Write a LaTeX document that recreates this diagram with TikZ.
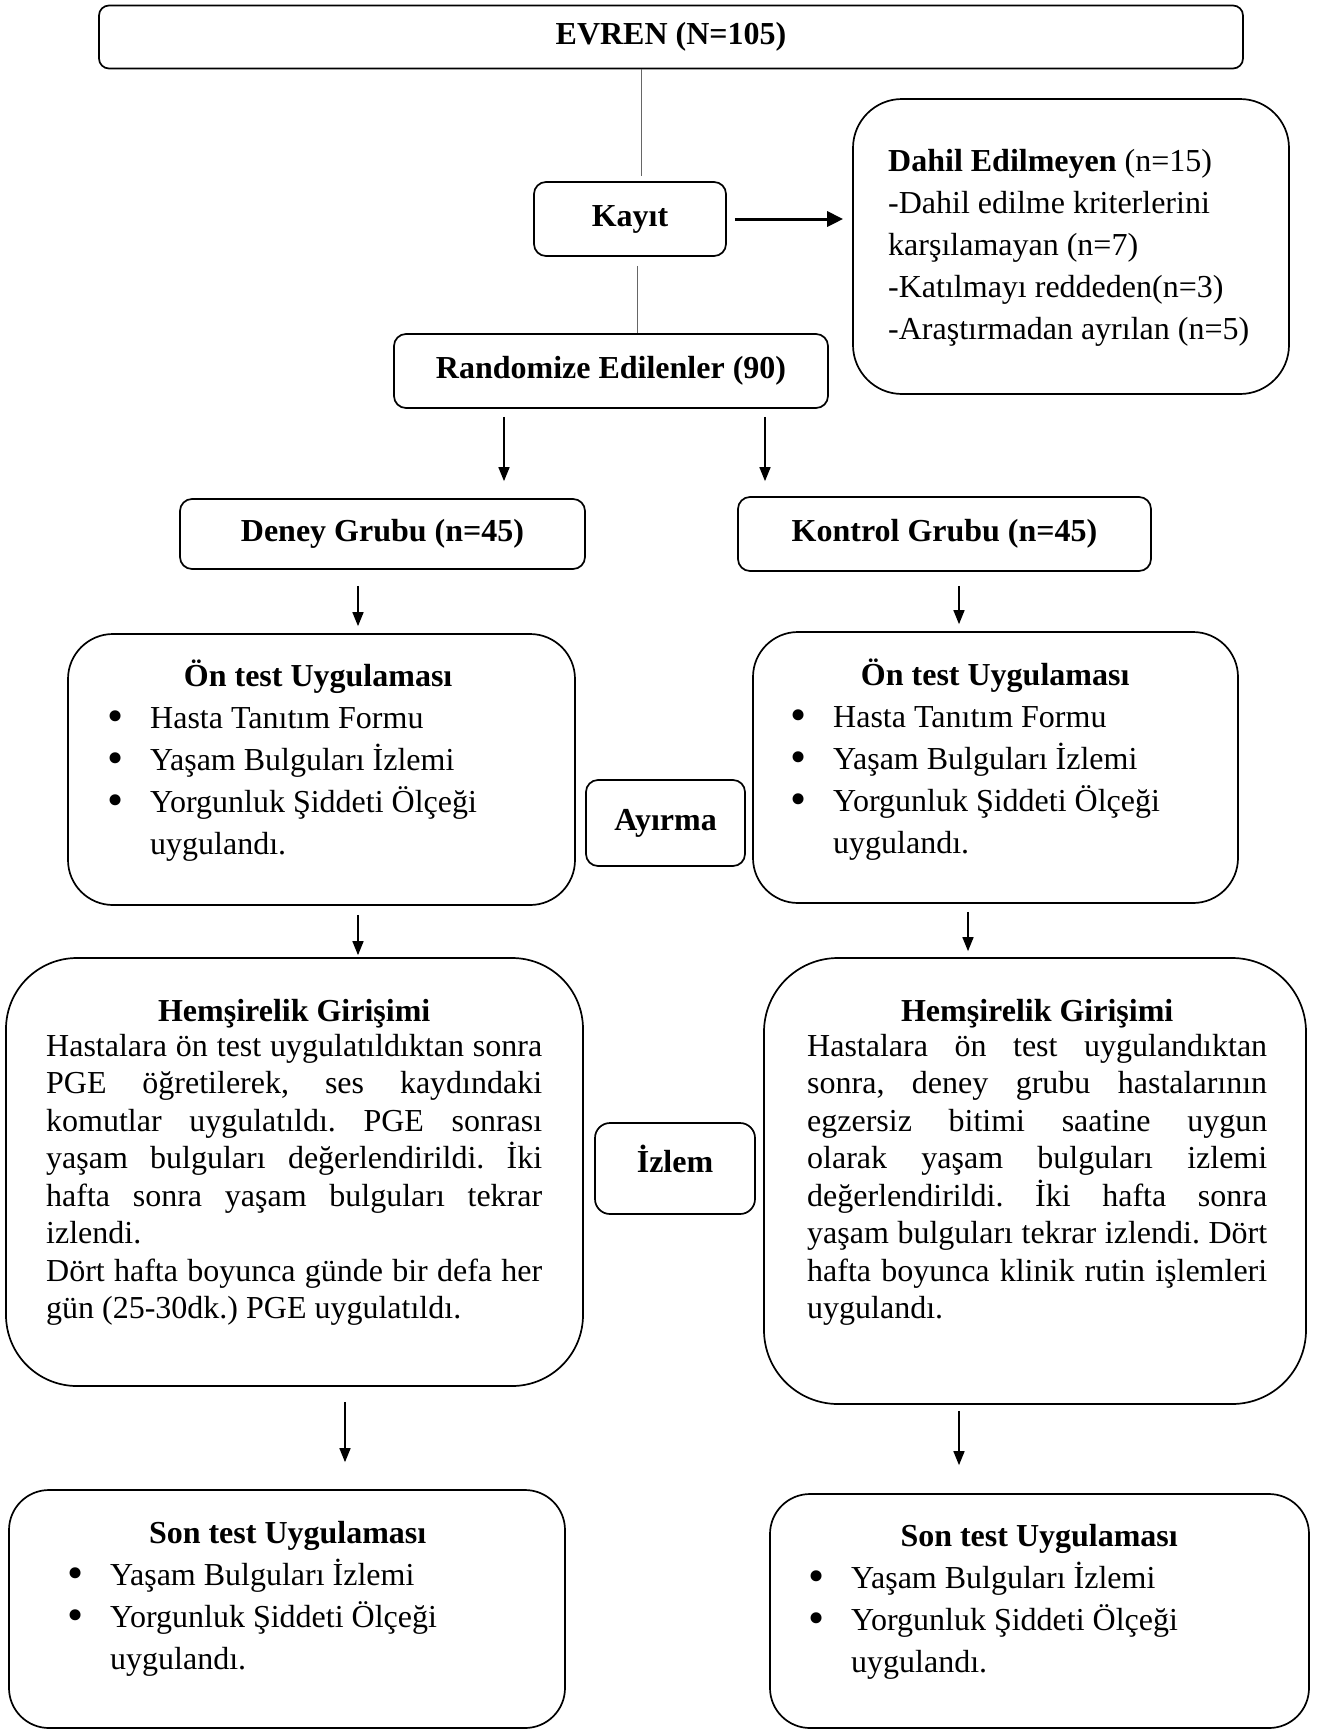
\documentclass[tikz,border=0pt]{standalone}
\usepackage{fontspec}
\setmainfont{Liberation Serif}
\usetikzlibrary{arrows.meta}
\newcommand{\fs}{\fontsize{32pt}{42pt}\selectfont}
\newcommand{\fsb}{\fontsize{32pt}{37.5pt}\selectfont}
\newcommand{\st}{\rule{0pt}{28pt}}
\newcommand{\blt}[1]{\makebox[40pt][l]{\hspace*{-3pt}\raisebox{-3.5pt}{\fontsize{46pt}{46pt}\selectfont •}}#1}
\newcommand{\cont}[1]{\hspace*{40pt}#1}
\newcommand{\jl}[2]{\makebox[#1][s]{#2}}
\hbadness=10000
\frenchspacing
\begin{document}
\begin{tikzpicture}[x=1pt,y=-1pt,
  box/.style={draw,line width=1.7pt,inner sep=0pt,font=\fs\bfseries,align=center},
  txt/.style={inner sep=0pt,font=\fs\frenchspacing,align=left,anchor=north west},
  conn/.style={draw=black!60,line width=1pt},
  arr/.style={line width=1.5pt,-{Triangle[length=14pt,width=11pt]}},
  bigarr/.style={line width=3pt,-{Triangle[length=16pt,width=15pt]}}]
\path[use as bounding box,fill=white] (0,0) rectangle (1322,1730);

% top part
\node[box,rounded corners=10pt,minimum width=1144pt,minimum height=63pt] (evren) at (671,37) {EVREN (N=105)};
\node[box,rounded corners=12pt,minimum width=192pt,minimum height=74pt] (kayit) at (630,219) {Kayıt};
\node[box,rounded corners=49pt,minimum width=436pt,minimum height=295pt] (dahil) at (1071,246.5) {};
\node[txt] (dahilT) at (888,143) {\st\textbf{Dahil Edilmeyen} (n=15)\\-Dahil edilme kriterlerini\\karşılamayan (n=7)\\-Katılmayı reddeden(n=3)\\-Araştırmadan ayrılan (n=5)};
\node[box,rounded corners=12pt,minimum width=434pt,minimum height=74pt] (rand) at (611,371) {Randomize Edilenler (90)};
\draw[conn,shorten >=5pt] ([xshift=-30pt]evren.south) -- ([xshift=11pt]kayit.north);
\draw[conn,shorten <=9pt] ([xshift=7pt]kayit.south) -- ([xshift=26pt]rand.north);
\draw[bigarr,shorten <=8pt,shorten >=9pt] (kayit.east) -- (kayit.east -| dahil.west);

% groups
\node[box,rounded corners=12pt,minimum width=405pt,minimum height=70pt] (deney) at (382.5,534) {Deney Grubu (n=45)};
\node[box,rounded corners=12pt,minimum width=413pt,minimum height=74pt] (kontrol) at (944.5,534) {Kontrol Grubu (n=45)};
\draw[arr,shorten <=8pt,shorten >=17pt] ([xshift=-107pt]rand.south) -- ([xshift=121.5pt]deney.north);
\draw[arr,shorten <=8pt,shorten >=15pt] ([xshift=154pt]rand.south) -- ([xshift=-179.5pt]kontrol.north);

% pre test
\node[box,rounded corners=45pt,minimum width=507pt,minimum height=271pt] (onL) at (321.5,769.5) {};
\node[txt] (onLT) at (110,658) {\makebox[416pt]{\st\textbf{Ön test Uygulaması}}\\\blt{Hasta Tanıtım Formu}\\\blt{Yaşam Bulguları İzlemi}\\\blt{Yorgunluk Şiddeti Ölçeği}\\\cont{uygulandı.}};
\node[box,rounded corners=45pt,minimum width=485pt,minimum height=271pt] (onR) at (995.5,767.5) {};
\node[txt] (onRT) at (793,657) {\makebox[404pt]{\st\textbf{Ön test Uygulaması}}\\\blt{Hasta Tanıtım Formu}\\\blt{Yaşam Bulguları İzlemi}\\\blt{Yorgunluk Şiddeti Ölçeği}\\\cont{uygulandı.}};
\node[box,rounded corners=12pt,minimum width=159pt,minimum height=86pt] (ayirma) at (665.5,823) {Ayırma};
\draw[arr,shorten <=16pt,shorten >=7pt] ([xshift=-24.5pt]deney.south) -- ([xshift=36.5pt]onL.north);
\draw[arr,shorten <=14pt,shorten >=7pt] ([xshift=14.5pt]kontrol.south) -- ([xshift=-36.5pt]onR.north);

% intervention
\node[box,rounded corners=71pt,minimum width=577pt,minimum height=428pt] (hemL) at (294.5,1172) {};
\node[txt,font=\fsb] (hemLT) at (46,993) {\makebox[496pt]{\st\textbf{Hemşirelik Girişimi}}\\[-2.5pt]
\jl{496pt}{Hastalara ön test uygulatıldıktan sonra}\\
\jl{496pt}{PGE öğretilerek, ses kaydındaki}\\
\jl{496pt}{komutlar uygulatıldı. PGE sonrası}\\
\jl{496pt}{yaşam bulguları değerlendirildi. İki}\\
\jl{496pt}{hafta sonra yaşam bulguları tekrar}\\
izlendi.\\
\jl{496pt}{Dört hafta boyunca günde bir defa her}\\
gün (25-30dk.) PGE uygulatıldı.};
\node[box,rounded corners=74pt,minimum width=542pt,minimum height=446pt] (hemR) at (1035,1181) {};
\node[txt,font=\fsb] (hemRT) at (807,993) {\makebox[460pt]{\st\textbf{Hemşirelik Girişimi}}\\[-2.5pt]
\jl{460pt}{Hastalara ön test uygulandıktan}\\
\jl{460pt}{sonra, deney grubu hastalarının}\\
\jl{460pt}{egzersiz bitimi saatine uygun}\\
\jl{460pt}{olarak yaşam bulguları izlemi}\\
\jl{460pt}{değerlendirildi. İki hafta sonra}\\
\jl{460pt}{yaşam bulguları tekrar izlendi. Dört}\\
\jl{460pt}{hafta boyunca klinik rutin işlemleri}\\
uygulandı.};
\node[box,rounded corners=15pt,minimum width=160pt,minimum height=91pt,text depth=20pt] (izlem) at (675,1168.5) {İzlem};
\draw[arr,shorten <=9pt,shorten >=2pt] ([xshift=36.5pt]onL.south) -- ([xshift=63.5pt]hemL.north);
\draw[arr,shorten <=8pt,shorten >=6pt] ([xshift=-27.5pt]onR.south) -- ([xshift=-67pt]hemR.north);

% post test
\node[box,rounded corners=40pt,minimum width=556pt,minimum height=238pt] (sonL) at (287,1609) {};
\node[txt] (sonLT) at (70,1515) {\makebox[435pt]{\st\textbf{Son test Uygulaması}}\\\blt{Yaşam Bulguları İzlemi}\\\blt{Yorgunluk Şiddeti Ölçeği}\\\cont{uygulandı.}};
\node[box,rounded corners=40pt,minimum width=539pt,minimum height=234pt] (sonR) at (1039.5,1611) {};
\node[txt] (sonRT) at (811,1518) {\makebox[456pt]{\st\textbf{Son test Uygulaması}}\\\blt{Yaşam Bulguları İzlemi}\\\blt{Yorgunluk Şiddeti Ölçeği}\\\cont{uygulandı.}};
\draw[arr,shorten <=15pt,shorten >=27pt] ([xshift=50.5pt]hemL.south) -- ([xshift=58pt]sonL.north);
\draw[arr,shorten <=6pt,shorten >=28pt] ([xshift=-76pt]hemR.south) -- ([xshift=-80.5pt]sonR.north);
\end{tikzpicture}
\end{document}
